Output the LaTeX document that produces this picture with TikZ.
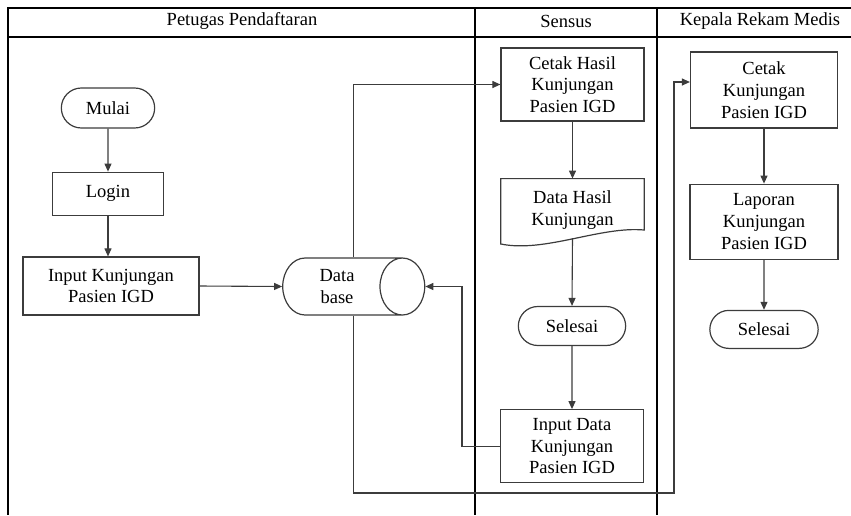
\documentclass[tikz,border=0pt]{standalone}
\usepackage{fontspec}
\setmainfont{Liberation Serif}
\usepackage{xcolor}
\definecolor{linegray}{RGB}{60, 60, 60}
\usetikzlibrary{shapes.geometric, shapes.misc, arrows.meta, positioning, calc}
\newcommand{\flowfont}{\fontsize{18.5}{21.7}\selectfont}

\begin{document}
\begin{tikzpicture}[
    x=1pt, y=-1pt,
    node distance=45pt,
    process/.style={rectangle, draw=linegray, line width=1.2pt, minimum width=143pt,
                    minimum height=73pt, align=center, font=\flowfont, inner sep=2pt},
    terminal/.style={rounded rectangle, draw=linegray, line width=1.2pt, minimum width=114pt,
                     minimum height=39pt, align=center, font=\flowfont},
    database/.style={cylinder, draw=linegray, line width=1.2pt, shape aspect=1.1,
                     minimum width=57pt, minimum height=142pt, align=center, font=\flowfont},
    docshape/.style={rectangle, minimum width=143pt, minimum height=65pt, align=center,
                     font=\flowfont, text depth=6pt},
    flow/.style={-{Triangle[length=8pt,width=7pt]}, line width=1.1pt, draw=linegray},
    lane/.style={line width=1.2pt, draw=black}
]
    \useasboundingbox (0,0) rectangle (851,515);

    % Lanes
    \draw[lane] (851,8) -- (8,8) -- (8,515);
    \draw[lane] (8,37) -- (851,37);
    \draw[lane] (475,8) -- (475,515);
    \draw[lane] (657,8) -- (657,515);
    \node[font=\flowfont] (laneA) at (242,21) {Petugas Pendaftaran};
    \node[font=\flowfont] (laneB) at (566,21) {Sensus};
    \node[font=\flowfont] (laneC) at (760,21) {Kepala Rekam Medis};

    % Petugas Pendaftaran
    \node[terminal, minimum width=100pt, minimum height=40pt] (mulai) at (108,108) {Mulai};
    \node[process, minimum width=111pt, minimum height=43pt, below=43pt of mulai] (login) {Login};
    \node[process, minimum width=176pt, minimum height=58pt] (input) at (111,286) {Input Kunjungan\\Pasien IGD};
    \node[database] (db) at (337,286.5) {Data\\base};

    % Sensus
    \node[process] (cetakhasil) at (572.5,84.5) {Cetak Hasil\\Kunjungan\\Pasien IGD};
    \node[docshape, below=57pt of cetakhasil] (datahasil) {Data Hasil\\Kunjungan};
    \draw[line width=1.2pt, draw=linegray] (datahasil.north west) -- (datahasil.north east)
        -- ([yshift=14pt]datahasil.south east)
        .. controls ([xshift=-44pt,yshift=18pt]datahasil.south east) and ([xshift=44pt,yshift=-9pt]datahasil.south west)
        .. (datahasil.south west) -- cycle;
    \node[terminal] (selesaiA) at (572,326) {Selesai};
    \node[process, below=63pt of selesaiA] (inputdata) {Input Data\\Kunjungan\\Pasien IGD};

    % Kepala Rekam Medis
    \node[process, minimum width=147pt, minimum height=76pt] (cetakkunj) at (764,90) {Cetak\\Kunjungan\\Pasien IGD};
    \node[process, minimum width=148pt, minimum height=75pt, below=55pt of cetakkunj] (laporan) {Laporan\\Kunjungan\\Pasien IGD};
    \node[terminal, minimum width=115pt, minimum height=38pt, below=50pt of laporan] (selesaiB) {Selesai};

    % Turning points
    \coordinate (backturn) at (462,446);
    \coordinate (lowturn) at (674,493);

    % Arrows
    \draw[flow] (mulai) -- (login);
    \draw[flow] (login.south) -- (login.south |- input.north);
    \draw[flow] (input.east) -- (db.west);
    \draw[flow] (db.shape center |- db.north) |- (cetakhasil.west);
    \draw[flow] (cetakhasil) -- (datahasil);
    \draw[flow] ([yshift=6pt]datahasil.south) -- (selesaiA.north);
    \draw[flow] (selesaiA) -- (inputdata);
    \draw[flow] (inputdata.west) -| (backturn) |- (db.east);
    \draw[flow] (db.shape center |- db.south) |- (lowturn) |- ([yshift=8pt]cetakkunj.west);
    \draw[flow] (cetakkunj) -- (laporan);
    \draw[flow] (laporan) -- (selesaiB);
\end{tikzpicture}
\end{document}
